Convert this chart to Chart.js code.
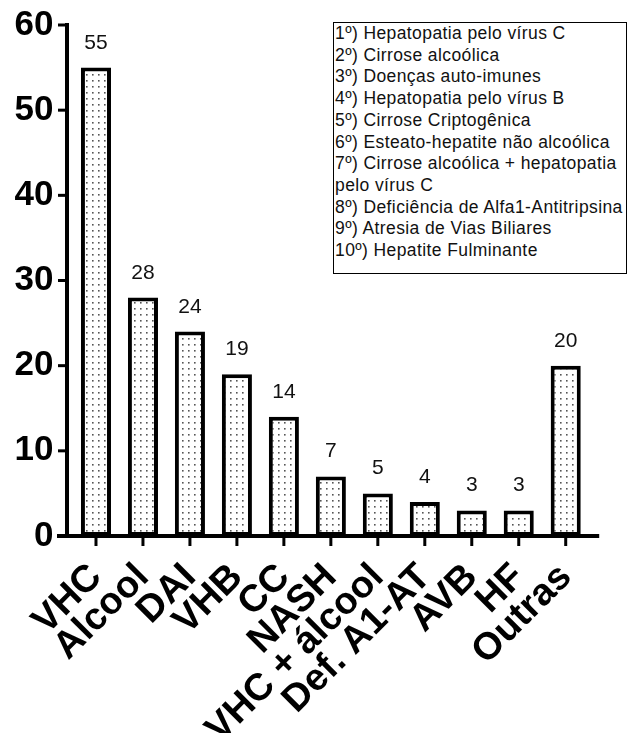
<!DOCTYPE html>
<html>
<head>
<meta charset="utf-8">
<script src="https://cdn.jsdelivr.net/npm/chart.js@4"></script>
<style>
  html, body { margin:0; padding:0; background:#fff; }
  #wrap { position:relative; width:630px; height:733px; }
  #legendBox {
    position:absolute; left:333px; top:22px; width:291px; height:250px;
    border:1.5px solid #000; background:#fff;
    font-family:"Liberation Sans", Arial, sans-serif; font-size:17.5px;
    letter-spacing:0.4px;
    line-height:21.7px; color:#111; padding:0 0 0 1px; white-space:nowrap;
  }
</style>
</head>
<body>
<div id="wrap">
  <canvas id="c" width="630" height="733"></canvas>
  <div id="legendBox"></div>
</div>
<script>
const categories = ['VHC','Alcool','DAI','VHB','CC','NASH','VHC + álcool','Def. A1-AT','AVB','HF','Outras'];
const counts = [55, 28, 24, 19, 14, 7, 5, 4, 3, 3, 20];
const yTicks = [0, 10, 20, 30, 40, 50, 60];
const legendLines = [
  '1º) Hepatopatia pelo vírus C',
  '2º) Cirrose alcoólica',
  '3º) Doenças auto-imunes',
  '4º) Hepatopatia pelo vírus B',
  '5º) Cirrose Criptogênica',
  '6º) Esteato-hepatite não alcoólica',
  '7º) Cirrose alcoólica + hepatopatia',
  'pelo vírus C',
  '8º) Deficiência de Alfa1-Antitripsina',
  '9º) Atresia de Vias Biliares',
  '10º) Hepatite Fulminante'
];

document.getElementById('legendBox').innerHTML = legendLines.map(l => '<div>' + l + '</div>').join('');

function dotPattern() {
  const t = document.createElement('canvas');
  t.width = 6; t.height = 6;
  const g = t.getContext('2d');
  g.fillStyle = '#fff'; g.fillRect(0,0,6,6);
  g.fillStyle = '#555'; g.fillRect(2,2,1.6,1.6);
  return g.createPattern(t, 'repeat');
}

const axisPlugin = {
  id: 'axisPlugin',
  afterDatasetsDraw(chart) {
    const ctx = chart.ctx, a = chart.chartArea;
    const ys = chart.scales.y, xs = chart.scales.x;
    const y0 = ys.getPixelForValue(0);
    const axX = a.left - 5.5;
    ctx.save();
    ctx.strokeStyle = '#000';
    ctx.lineCap = 'butt';
    ctx.lineWidth = 4;
    ctx.beginPath(); ctx.moveTo(axX, ys.getPixelForValue(60) - 2); ctx.lineTo(axX, y0); ctx.stroke();
    ctx.beginPath(); ctx.moveTo(a.left - 15.5, y0); ctx.lineTo(a.right + 10, y0); ctx.stroke();
    ctx.lineWidth = 3;
    yTicks.forEach(v => {
      const p = ys.getPixelForValue(v);
      ctx.beginPath(); ctx.moveTo(axX - 9, p); ctx.lineTo(axX, p); ctx.stroke();
    });
    categories.forEach((c, i) => {
      const p = xs.getPixelForValue(i);
      ctx.beginPath(); ctx.moveTo(p, y0); ctx.lineTo(p, y0 + 10); ctx.stroke();
    });
    ctx.fillStyle = '#111';
    ctx.font = '21px "Liberation Sans", Arial, sans-serif';
    ctx.textAlign = 'center';
    ctx.textBaseline = 'alphabetic';
    chart.getDatasetMeta(0).data.forEach((bar, i) => {
      ctx.fillText(String(counts[i]), bar.x, bar.y - 19);
    });
    ctx.restore();
  }
};

new Chart(document.getElementById('c'), {
  type: 'bar',
  data: {
    labels: categories,
    datasets: [{
      data: counts,
      backgroundColor: dotPattern(),
      borderColor: '#000',
      borderWidth: 4,
      borderSkipped: false,
      barPercentage: 0.64,
      categoryPercentage: 1
    }]
  },
  options: {
    responsive: false,
    animation: false,
    devicePixelRatio: 1,
    layout: { padding: { top: 25, right: 40.8, left: 0, bottom: 0 } },
    plugins: { legend: { display: false }, tooltip: { enabled: false } },
    scales: {
      x: {
        type: 'category',
        offset: true,
        grid: { display: false, drawTicks: false },
        border: { display: false },
        ticks: {
          autoSkip: false, minRotation: 45, maxRotation: 45, padding: 19,
          color: '#000',
          font: { family: '"Liberation Sans", Arial, sans-serif', size: 38, weight: 'bold' }
        },
        afterFit(s) { s.height = 197; }
      },
      y: {
        min: 0, max: 60,
        grid: { display: false, drawTicks: false },
        border: { display: false },
        afterBuildTicks(s) { s.ticks = yTicks.map(v => ({ value: v })); },
        ticks: {
          padding: 19,
          color: '#000',
          font: { family: '"Liberation Sans", Arial, sans-serif', size: 35, weight: 'bold', lineHeight: 0.3 }
        },
        afterFit(s) { s.width = 72.5; }
      }
    }
  },
  plugins: [axisPlugin]
});
</script>
</body>
</html>
